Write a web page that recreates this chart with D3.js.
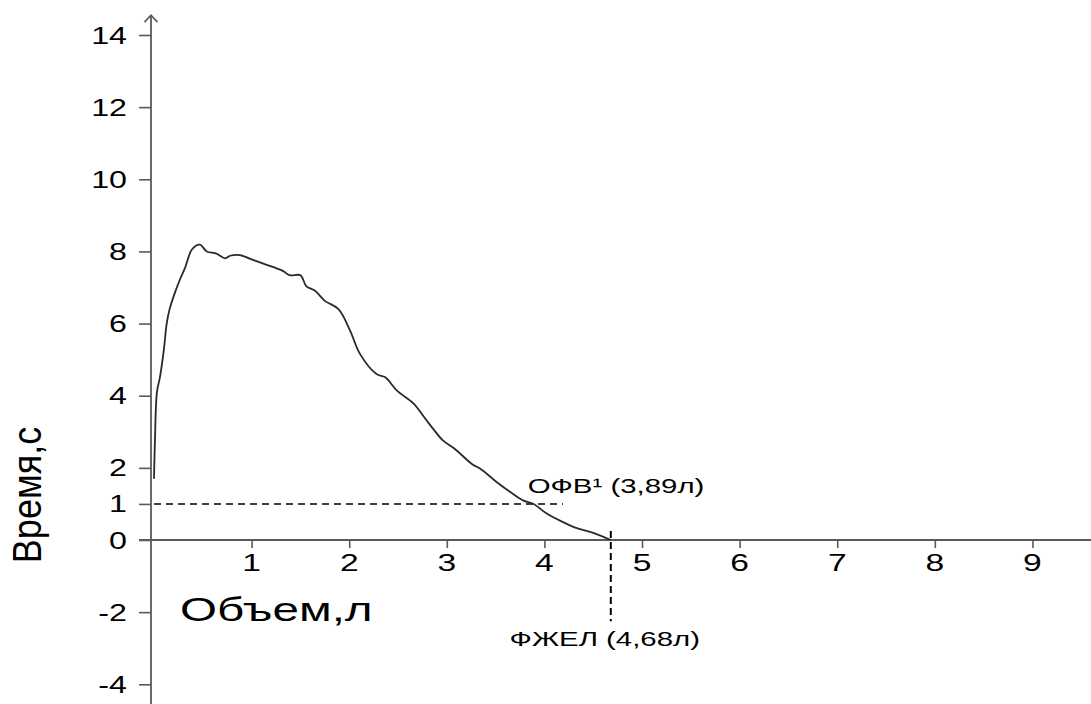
<!DOCTYPE html>
<html>
<head>
<meta charset="utf-8">
<script src="https://cdn.jsdelivr.net/npm/d3@7"></script>
<style>
  html, body { margin: 0; padding: 0; background: #fff; }
  svg { display: block; font-family: "Liberation Sans", Arial, sans-serif; }
</style>
</head>
<body>
<svg id="chart" width="1091" height="704"></svg>
<script>
// Flow–volume curve: volume (l) on x, labelled value on y
const volume = [0, 0.01, 0.03, 0.06, 0.10, 0.13, 0.16, 0.22, 0.27, 0.32, 0.39, 0.47, 0.54, 0.64, 0.73, 0.78,
  0.88, 0.98, 1.12, 1.32, 1.39, 1.50, 1.56, 1.65, 1.75, 1.89, 2.01, 2.11, 2.28, 2.37, 2.49, 2.66, 2.78,
  2.86, 2.96, 3.08, 3.26, 3.34, 3.51, 3.65, 3.78, 3.89, 4.02, 4.18, 4.34, 4.50, 4.68];
const flow = [1.7, 2.8, 4.1, 4.5, 5.25, 6.0, 6.4, 6.9, 7.25, 7.56, 8.06, 8.19, 8.0, 7.94, 7.81, 7.88,
  7.9, 7.8, 7.66, 7.46, 7.34, 7.34, 7.04, 6.91, 6.63, 6.40, 5.80, 5.16, 4.60, 4.51, 4.14, 3.78, 3.36,
  3.08, 2.76, 2.53, 2.10, 1.98, 1.61, 1.33, 1.10, 1.0, 0.74, 0.51, 0.32, 0.20, 0];

const xTicks = [1, 2, 3, 4, 5, 6, 7, 8, 9];
const yTicks = [14, 12, 10, 8, 6, 4, 2, 1, 0, -2, -4];

const fev1 = 3.89;   // ОФВ1, l
const fvc = 4.68;    // ФЖЕЛ, l
const fev1Label = "ОФВ¹ (3,89л)";
const fvcLabel = "ФЖЕЛ (4,68л)";
const xTitle = "Объем,л";
const yTitle = "Время,с";

const W = 1091, H = 704;
const axisX = 151;           // position of the vertical axis
const stretch = 1.4;         // horizontal widening of the lettering

const svg = d3.select("#chart");

const x = d3.scaleLinear().domain([0, 9.6]).range([axisX + 3, W]);
const y = d3.scaleLinear().domain([0, 14]).range([540, 35]);

const axisColor = "#5a5a5a";
const ink = "#000";

// x axis line (extends a little left of the vertical axis)
svg.append("line")
  .attr("x1", axisX - 12).attr("x2", W)
  .attr("y1", y(0)).attr("y2", y(0))
  .attr("stroke", axisColor).attr("stroke-width", 1.8);

// vertical axis with open arrow head
const yTopVal = 14.55;
svg.append("line")
  .attr("x1", axisX).attr("x2", axisX)
  .attr("y1", y(yTopVal)).attr("y2", H)
  .attr("stroke", axisColor).attr("stroke-width", 1.8);
svg.append("path")
  .attr("d", `M${axisX - 6.5},${y(yTopVal) + 7} L${axisX},${y(yTopVal)} L${axisX + 6.5},${y(yTopVal) + 7}`)
  .attr("fill", "none").attr("stroke", axisColor).attr("stroke-width", 1.6);

// y ticks
const yAxis = svg.append("g")
  .attr("transform", `translate(${axisX},0)`)
  .call(d3.axisLeft(y).tickValues(yTicks).tickSize(12).tickFormat(""));
yAxis.select(".domain").remove();
yAxis.selectAll(".tick line").attr("stroke", axisColor).attr("stroke-width", 1.6);

// x ticks
const xAxis = svg.append("g")
  .attr("transform", `translate(0,${y(0)})`)
  .call(d3.axisBottom(x).tickValues(xTicks).tickSize(8).tickFormat(""));
xAxis.select(".domain").remove();
xAxis.selectAll(".tick line").attr("stroke", axisColor).attr("stroke-width", 1.6);

// widened text helper
function wideText(g, tx, ty, str, size, anchor) {
  return g.append("text")
    .attr("transform", `translate(${tx},${ty}) scale(${stretch},1)`)
    .attr("text-anchor", anchor || "start")
    .attr("font-size", size)
    .attr("fill", ink)
    .text(str);
}

// y tick labels
yTicks.forEach(v => {
  wideText(svg, axisX - 24, y(v) + 8.5, String(v), 23, "end");
});
// x tick labels
xTicks.forEach(v => {
  wideText(svg, x(v), y(0) + 31, String(v), 24, "middle");
});

// dashed reference lines
svg.append("line")
  .attr("x1", x(0)).attr("x2", x(4.19))
  .attr("y1", y(1)).attr("y2", y(1))
  .attr("stroke", ink).attr("stroke-width", 1.6)
  .attr("stroke-dasharray", "7,5");
svg.append("line")
  .attr("x1", x(fvc)).attr("x2", x(fvc))
  .attr("y1", y(0.25)).attr("y2", y(-2.25))
  .attr("stroke", ink).attr("stroke-width", 2)
  .attr("stroke-dasharray", "7,4");

// curve
const pts = volume.map((v, i) => [v, flow[i]]);
svg.append("path")
  .datum(pts)
  .attr("d", d3.line().x(d => x(d[0])).y(d => y(d[1])).curve(d3.curveCatmullRom.alpha(0.5)))
  .attr("fill", "none")
  .attr("stroke", "#2a2a2a")
  .attr("stroke-width", 1.8)
  .attr("stroke-linejoin", "round");

// annotations
wideText(svg, x(fev1) - 6, y(1) - 11, fev1Label, 21, "start");
wideText(svg, x(fvc) - 6, y(-2.25) + 25, fvcLabel, 21, "middle");

// axis titles
wideText(svg, 180, 621, xTitle, 34, "start");
svg.append("text")
  .attr("transform", `translate(41,495) scale(1.15,1) rotate(-90)`)
  .attr("text-anchor", "middle")
  .attr("font-size", 36)
  .attr("fill", ink)
  .text(yTitle);
</script>
</body>
</html>
